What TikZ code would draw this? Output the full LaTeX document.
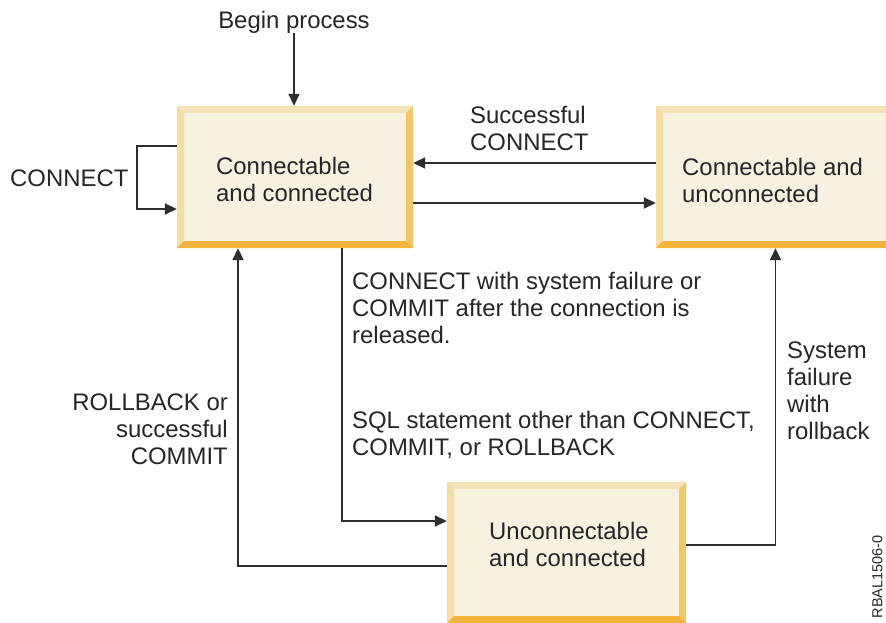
\documentclass[tikz,border=0pt]{standalone}
\usepackage{fontspec}
\setmainfont{Liberation Sans}
\usetikzlibrary{arrows.meta,calc}
\definecolor{boxfill}{HTML}{F7F1E0}
\definecolor{bevtop}{HTML}{F6E4B8}
\definecolor{bevleft}{HTML}{F5DEA4}
\definecolor{bevright}{HTML}{F3C762}
\definecolor{bevbot}{HTML}{F2B43A}
\definecolor{linec}{HTML}{2E2E2E}
\definecolor{txt}{HTML}{262626}
\tikzset{
  lbl/.style={text=txt, font=\fontsize{23.9}{27}\selectfont, inner sep=0pt, align=left},
  state/.style={fill=boxfill, inner sep=0pt,
    path picture={
      \fill[bevtop] (path picture bounding box.north west) -- (path picture bounding box.north east)
        -- ++(-7pt,-7pt) -- ([shift={(7pt,-7pt)}]path picture bounding box.north west) -- cycle;
      \fill[bevleft] (path picture bounding box.north west) -- (path picture bounding box.south west)
        -- ++(7pt,7pt) -- ([shift={(7pt,-7pt)}]path picture bounding box.north west) -- cycle;
      \fill[bevright] (path picture bounding box.north east) -- (path picture bounding box.south east)
        -- ++(-7pt,7pt) -- ([shift={(-7pt,-7pt)}]path picture bounding box.north east) -- cycle;
      \fill[bevbot] (path picture bounding box.south west) -- (path picture bounding box.south east)
        -- ++(-7pt,7pt) -- ([shift={(7pt,7pt)}]path picture bounding box.south west) -- cycle;
    }},
  conn/.style={draw=linec, line width=1.8pt},
  arr/.style={conn, -{Triangle[length=12pt,width=11pt]}}
}
\begin{document}
\begin{tikzpicture}[x=1pt,y=-1pt]
\useasboundingbox (0,0) rectangle (886,623);
\clip (0,0) rectangle (886,623);
\fill[white] (0,0) rectangle (886,623);

\node[state, minimum width=236pt, minimum height=142pt] (cc) at (295,177) {};
\node[state, minimum width=239pt, minimum height=142pt] (cu) at (775.5,177) {};
\node[state, minimum width=239pt, minimum height=141pt] (uc) at (566.5,552.5) {};
\node[lbl, anchor=west] (cct) at (216,179) {Connectable\\and connected};
\node[lbl, anchor=west] (cut) at (682,180) {Connectable and\\unconnected};
\node[lbl, anchor=west] (uct) at (489,544) {Unconnectable\\and connected};

\node[lbl, anchor=center] (begin) at (294,22) {Begin process};
\draw[arr] (begin.south) -- (begin.south |- cc.north);

\node[lbl, anchor=west] (lconn) at (10,178) {CONNECT};
\draw[arr] ([yshift=31pt]cc.west) -- ++(-40pt,0) |- ([yshift=-32pt]cc.west);

\node[lbl, anchor=west] (lsucc) at (470,128) {Successful\\CONNECT};
\draw[arr] ([yshift=14pt]cu.west) -- ([yshift=14pt]cc.east);
\draw[arr] ([yshift=-26pt]cc.east) -- ([yshift=-26pt]cu.west);

\node[lbl, anchor=west] (lfail) at (352,307.5) {CONNECT with system failure or\\COMMIT after the connection is\\released.};
\node[lbl, anchor=west] (lsql) at (352,434.5) {SQL statement other than CONNECT,\\COMMIT, or ROLLBACK};
\draw[arr] ([xshift=47pt]cc.south) |- ([yshift=31.5pt]uc.west);

\node[lbl, anchor=east, align=right] (lroll) at (228,429.5) {ROLLBACK or\\successful\\COMMIT};
\draw[arr] ([yshift=-13.5pt]uc.west) -| ([xshift=-57pt]cc.south);

\node[lbl, anchor=west] (lsys) at (787,391) {System\\failure\\with\\rollback};
\draw[arr] ([yshift=7.5pt]uc.east) -| (cu.south);

\node[text=txt, font=\fontsize{14.5}{14.5}\selectfont, rotate=90, anchor=north east, inner sep=0pt] (fid) at (872,535) {RBAL1506-0};
\end{tikzpicture}
\end{document}
